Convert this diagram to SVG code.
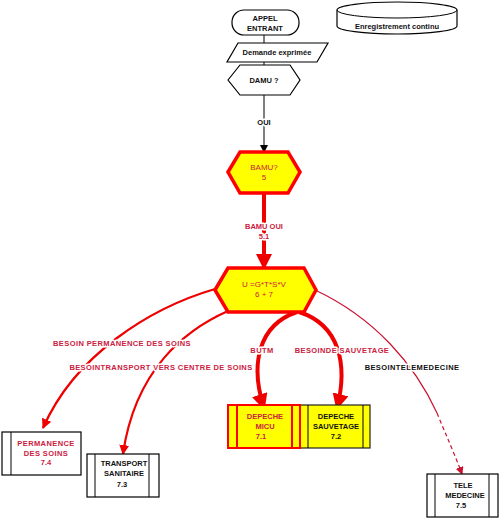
<svg xmlns="http://www.w3.org/2000/svg" width="500" height="520" viewBox="0 0 500 520">
<style>
text{font-family:"Liberation Sans",Arial,sans-serif;font-weight:bold;text-anchor:middle}
.t{font-size:7.5px}
.ls{letter-spacing:0.4px}
.nw{font-weight:normal;font-size:8px}
.blk{fill:#111}
.red{fill:#cc2040}
.halo{paint-order:stroke;stroke:#fff;stroke-width:3px;stroke-linejoin:round}
.bw{fill:#fff;stroke:#000;stroke-width:1.2}
.yr{fill:#ffff00;stroke:#ff0000;stroke-width:3.5}
.yb{fill:#ffff00;stroke:#222;stroke-width:1.2}
.ln{fill:none;stroke:#000;stroke-width:1}
.rc{fill:none;stroke:#ee0000}
</style>
<defs>
<marker id="ab" markerUnits="userSpaceOnUse" markerWidth="8" markerHeight="8" refX="7" refY="4" orient="auto"><path d="M0,0 L8,4 L0,8 Z" fill="#000"/></marker>
<marker id="ar" markerUnits="userSpaceOnUse" markerWidth="10" markerHeight="10" refX="9" refY="5" orient="auto"><path d="M0,0 L10,5 L0,10 Z" fill="#ee0000"/></marker>
<marker id="arb" markerUnits="userSpaceOnUse" markerWidth="16" markerHeight="16" refX="14" refY="8" orient="auto"><path d="M0,0 L16,8 L0,16 Z" fill="#ee0000"/></marker>
<marker id="ars" markerUnits="userSpaceOnUse" markerWidth="8" markerHeight="8" refX="7" refY="4" orient="auto"><path d="M0,0 L8,4 L0,8 Z" fill="#cc1030"/></marker>
</defs>

<g id="connectors">
<line class="ln" x1="264" y1="35" x2="264" y2="43"/>
<line class="ln" x1="264" y1="62" x2="264" y2="65"/>
<line class="ln" x1="264" y1="95" x2="264" y2="152" marker-end="url(#ab)"/>
<line class="rc" stroke-width="4" x1="264" y1="193" x2="264" y2="268" marker-end="url(#arb)"/>
<path class="rc" stroke-width="2.2" d="M215,289 C150,308 75,355 43,428" marker-end="url(#ar)"/>
<path class="rc" stroke-width="2.2" d="M228,311 C185,330 135,370 123,454" marker-end="url(#ar)"/>
<path class="rc" stroke-width="4" d="M297,312 C258,325 250,365 264,408" marker-end="url(#arb)"/>
<path class="rc" stroke-width="4" d="M299,312 C340,325 348,365 337,408" marker-end="url(#arb)"/>
<path fill="none" stroke="#cc1030" stroke-width="1.2" d="M315,290 C375,318 415,365 437,413"/>
<path fill="none" stroke="#cc1030" stroke-width="1.2" stroke-dasharray="4,3" d="M437,413 C446,435 455,455 462,474" marker-end="url(#ars)"/>
<text class="t blk halo" x="264" y="125">OUI</text>
<text class="t red halo" x="264" y="229">BAMU OUI</text>
<text class="t red halo" x="264" y="239">5.1</text>
<text class="t ls red halo" x="122" y="346">BESOIN PERMANENCE DES SOINS</text>
<text class="t ls red halo" x="161" y="370">BESOINTRANSPORT VERS CENTRE DE SOINS</text>
<text class="t ls red halo" x="262" y="353">BUTM</text>
<text class="t ls red halo" x="342" y="353">BESOINDE SAUVETAGE</text>
<text class="t ls blk halo" x="412" y="370">BESOINTELEMEDECINE</text>
</g>

<g id="appel">
<rect class="bw" x="232" y="10" width="67" height="25" rx="12" ry="12"/>
<text class="t blk" x="265" y="21">APPEL</text>
<text class="t blk" x="265" y="31">ENTRANT</text>
</g>

<g id="enregistrement">
<path class="bw" d="M337,10 A60,8 0 0,1 457,10 L457,26 A60,8 0 0,1 337,26 Z"/>
<path class="ln" d="M337,10 A60,8 0 0,0 457,10"/>
<text class="t blk" x="397" y="29">Enregistrement continu</text>
</g>

<g id="demande">
<polygon class="bw" points="238,43 328,43 317,62 227,62"/>
<text class="t blk" x="277" y="55">Demande exprimée</text>
</g>

<g id="damu">
<polygon class="bw" points="228,80 240,65 290,65 300,80 290,95 240,95"/>
<text class="t blk" x="264" y="83">DAMU ?</text>
</g>

<g id="bamu">
<polygon class="yr" points="228,172 240,152 288,152 300,172 288,193 240,193"/>
<text class="nw red" x="264" y="170">BAMU?</text>
<text class="nw red" x="264" y="180">5</text>
</g>

<g id="ugtsv">
<polygon class="yr" points="215,290 228,268 304,268 316,290 304,312 228,312"/>
<text class="nw red" x="264" y="287">U =G*T*S*V</text>
<text class="nw red" x="264" y="297">6 + 7</text>
</g>

<g id="permanence">
<rect class="bw" x="2" y="432" width="79" height="43"/>
<line class="ln" x1="11" y1="432" x2="11" y2="475"/>
<text class="t ls red" x="46" y="446">PERMANENCE</text>
<text class="t ls red" x="46" y="456">DES SOINS</text>
<text class="t red" x="46" y="465">7.4</text>
</g>

<g id="transport">
<rect class="bw" x="87" y="454" width="72" height="43"/>
<line class="ln" x1="95" y1="454" x2="95" y2="497"/>
<line class="ln" x1="149" y1="454" x2="149" y2="497"/>
<text class="t blk" x="124" y="466">TRANSPORT</text>
<text class="t blk" x="124" y="476">SANITAIRE</text>
<text class="t blk" x="122" y="487">7.3</text>
</g>

<g id="sauvetage">
<rect class="yb" x="300" y="405" width="70" height="43"/>
<line class="ln" x1="308" y1="405" x2="308" y2="448"/>
<line class="ln" x1="363" y1="405" x2="363" y2="448"/>
<text class="t blk" x="336" y="419">DEPECHE</text>
<text class="t blk" x="336" y="429">SAUVETAGE</text>
<text class="t blk" x="336" y="439">7.2</text>
</g>

<g id="micu">
<rect x="228" y="405" width="72" height="43" fill="#ffff00" stroke="#ff0000" stroke-width="2"/>
<line x1="237" y1="405" x2="237" y2="448" stroke="#ff0000" stroke-width="2"/>
<line x1="292" y1="405" x2="292" y2="448" stroke="#ff0000" stroke-width="2"/>
<text class="t red" x="265" y="419">DEPECHE</text>
<text class="t red" x="265" y="429">MICU</text>
<text class="t red" x="261" y="439">7.1</text>
</g>

<g id="telemedecine">
<rect class="bw" x="427" y="474" width="71" height="43"/>
<line class="ln" x1="435" y1="474" x2="435" y2="517"/>
<line class="ln" x1="489" y1="474" x2="489" y2="517"/>
<text class="t blk" x="463" y="488">TELE</text>
<text class="t blk" x="465" y="498">MEDECINE</text>
<text class="t blk" x="461" y="508">7.5</text>
</g>
</svg>
